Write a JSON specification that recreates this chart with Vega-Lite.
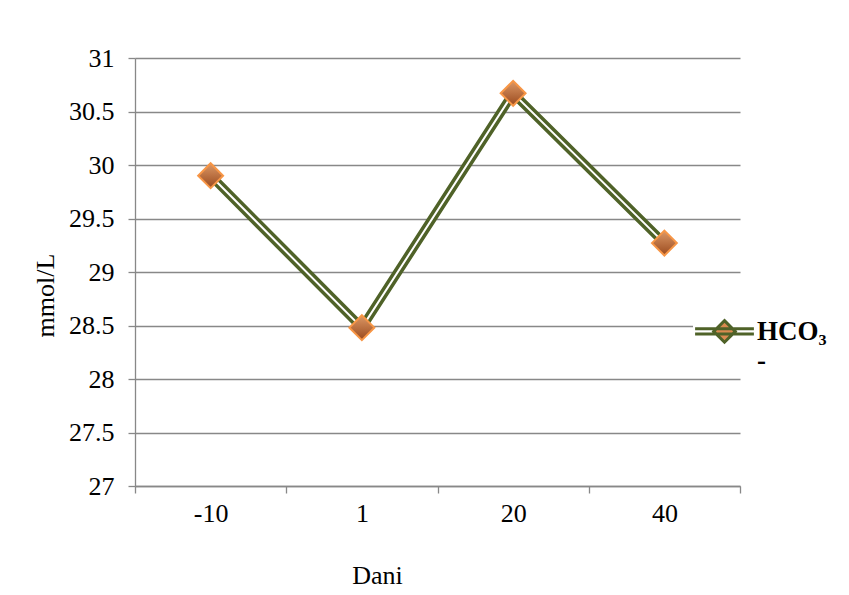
{
  "$schema": "https://vega.github.io/schema/vega-lite/v6.json",
  "width": 605,
  "height": 428,
  "autosize": {"type": "none"},
  "padding": {"left": 135, "top": 58, "right": 109, "bottom": 109},
  "background": "white",
  "config": {
    "view": {"stroke": null},
    "font": "Liberation Serif",
    "axis": {
      "labelFont": "Liberation Serif",
      "titleFont": "Liberation Serif",
      "labelColor": "black",
      "titleColor": "black",
      "labelFontSize": 26,
      "titleFontSize": 26,
      "titleFontWeight": "normal",
      "domainColor": "#888888",
      "tickColor": "#888888",
      "gridColor": "#888888",
      "domainWidth": 1.3,
      "tickWidth": 1.3,
      "gridWidth": 1.3,
      "tickSize": 7
    }
  },
  "data": {
    "values": [
      {"Dani": "-10", "value": 29.9},
      {"Dani": "1", "value": 28.48},
      {"Dani": "20", "value": 30.67},
      {"Dani": "40", "value": 29.27}
    ]
  },
  "encoding": {
    "x": {
      "field": "Dani",
      "type": "ordinal",
      "sort": null,
      "bandPosition": 0.5,
      "scale": {"type": "band", "paddingInner": 0, "paddingOuter": 0},
      "axis": {
        "title": "Dani",
        "labelAngle": 0,
        "tickBand": "extent",
        "grid": false,
        "labelPadding": 7,
        "titleX": 242,
        "titleY": 89,
        "titleBaseline": "middle",
        "titleAlign": "center"
      }
    },
    "y": {
      "field": "value",
      "type": "quantitative",
      "scale": {"domain": [27, 31], "nice": false, "zero": false},
      "axis": {
        "title": "mmol/L",
        "values": [27, 27.5, 28, 28.5, 29, 29.5, 30, 30.5, 31],
        "format": "~g",
        "grid": true,
        "labelPadding": 14,
        "titleAngle": -90,
        "titleX": -90,
        "titleY": 237,
        "titleBaseline": "middle",
        "titleAlign": "center"
      }
    }
  },
  "layer": [
    {
      "mark": {"type": "line", "strokeWidth": 9},
      "encoding": {
        "stroke": {
          "datum": "HCO₃",
          "scale": {"range": ["#4F6228"]},
          "legend": {
            "orient": "none",
            "legendX": 558,
            "legendY": 229,
            "title": null,
            "padding": 0,
            "fillColor": "white",
            "symbolType": "M-0.98,0.34H0.98M-0.98,0.52H0.98M0,0.07L0.36,0.43L0,0.79L-0.36,0.43Z",
            "symbolSize": 3600,
            "symbolStrokeColor": "#4F6228",
            "symbolStrokeWidth": 3,
            "symbolFillColor": "#D98A50",
            "labelFont": "Liberation Serif",
            "labelFontSize": 27,
            "labelFontWeight": "bold",
            "labelColor": "black",
            "labelExpr": "['HCO₃', '-']",
            "labelOffset": 1,
            "labelBaseline": "top"
          }
        }
      }
    },
    {
      "mark": {"type": "line", "stroke": "white", "strokeWidth": 2},
      "encoding": {}
    },
    {
      "mark": {
        "type": "point",
        "shape": "diamond",
        "size": 620,
        "filled": true,
        "opacity": 1,
        "fill": {
          "gradient": "linear",
          "x1": 0, "y1": 0, "x2": 0, "y2": 1,
          "stops": [
            {"offset": 0, "color": "#DC9866"},
            {"offset": 1, "color": "#9A4A1E"}
          ]
        },
        "stroke": "#F79646",
        "strokeWidth": 2
      },
      "encoding": {}
    }
  ]
}
